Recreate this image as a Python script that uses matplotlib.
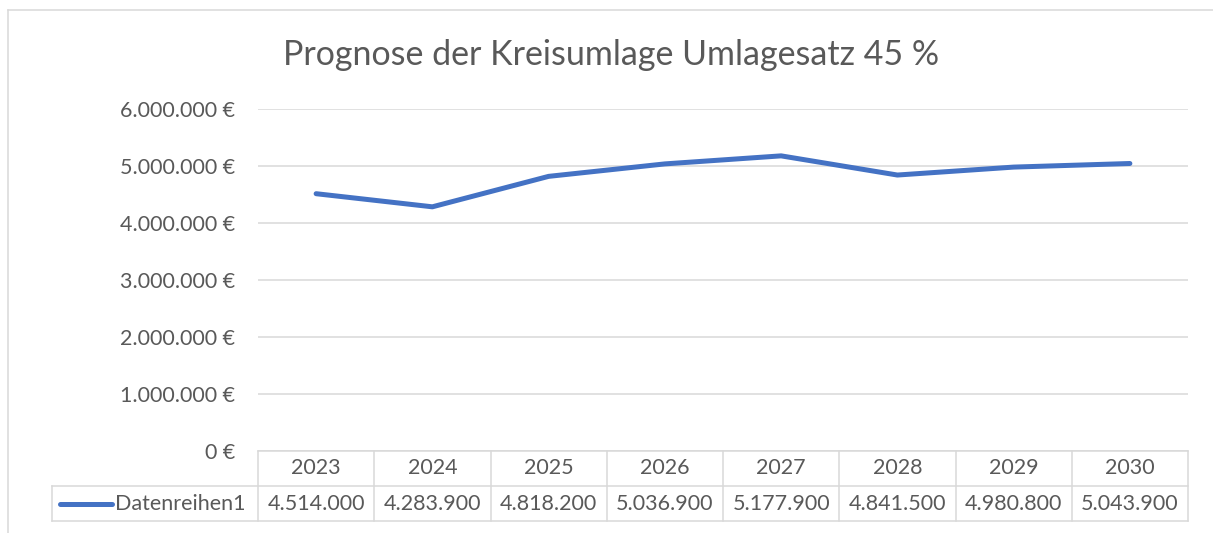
import matplotlib
matplotlib.use("Agg")
import matplotlib.pyplot as plt
from matplotlib.lines import Line2D
import matplotlib.transforms as mtransforms

years = ["2023", "2024", "2025", "2026", "2027", "2028", "2029", "2030"]
values = [4514000, 4283900, 4818200, 5036900, 5177900, 4841500, 4980800, 5043900]
series_name = "Datenreihen1"
title = "Prognose der Kreisumlage Umlagesatz 45 %"
yticks = [0, 1000000, 2000000, 3000000, 4000000, 5000000, 6000000]

def fmt(v):
    return f"{v:,.0f}".replace(",", ".")

W, H = 1213, 533
plt.rcParams['font.family'] = ['Lato', 'DejaVu Sans']
fig = plt.figure(figsize=(W / 100, H / 100), dpi=100)
TXT = "#595959"
GRID = "#D9D9D9"
LINE = "#4472C4"
FS = 15.5

x0, x1, ytop, ybot = 258, 1188, 109, 451
ax = fig.add_axes([x0 / W, 1 - ybot / H, (x1 - x0) / W, (ybot - ytop) / H])
xs = list(range(len(years)))
ax.plot(xs, values, color=LINE, lw=3.6, solid_capstyle='round', solid_joinstyle='round', zorder=3)
ax.set_xlim(-0.5, len(years) - 0.5)
ax.set_ylim(0, 6000000)
ax.set_yticks(yticks)
ax.set_yticklabels([fmt(v) + " €" for v in yticks], fontsize=FS, color=TXT)
ax.tick_params(axis='y', length=0, pad=16.5)
ax.set_xticks([])
for v in yticks:
    ax.axhline(v, color=GRID, lw=1.1, zorder=1)
for s in ax.spines.values():
    s.set_visible(False)

# Data table
trans = mtransforms.blended_transform_factory(ax.transData, ax.transAxes)
rh = 35 / (ybot - ytop)
n = len(years)
colw = (x1 - x0) / n
def px2x(px):
    return -0.5 + (px - x0) / colw
left_ext = px2x(52)
kw = dict(color=GRID, lw=1.1, transform=trans, clip_on=False)
ax.add_line(Line2D([-0.5, n - 0.5], [0, 0], **kw))
ax.add_line(Line2D([left_ext, n - 0.5], [-rh, -rh], **kw))
ax.add_line(Line2D([left_ext, n - 0.5], [-2 * rh, -2 * rh], **kw))
for i in range(n + 1):
    ax.add_line(Line2D([i - 0.5, i - 0.5], [0, -2 * rh], **kw))
ax.add_line(Line2D([left_ext, left_ext], [-rh, -2 * rh], **kw))
for i, (yr, v) in enumerate(zip(years, values)):
    ax.text(i, -rh / 2, yr, transform=trans, ha='center', va='center', fontsize=FS, color=TXT)
    ax.text(i, -1.5 * rh, fmt(v), transform=trans, ha='center', va='center', fontsize=FS, color=TXT)
ax.add_line(Line2D([px2x(60), px2x(112)], [-1.5 * rh, -1.5 * rh], color=LINE, lw=3.6,
                   solid_capstyle='round', transform=trans, clip_on=False))
ax.text(px2x(115), -1.5 * rh, series_name, transform=trans, ha='left', va='center', fontsize=FS, color=TXT)

fig.text(611 / W, 1 - 55 / H, title, ha='center', va='center', fontsize=24.5, color=TXT)

fig.add_artist(Line2D([8 / W, 8 / W], [0, 1 - 10 / H], color=GRID, lw=1.1, transform=fig.transFigure))
fig.add_artist(Line2D([8 / W, 1], [1 - 10 / H, 1 - 10 / H], color=GRID, lw=1.1, transform=fig.transFigure))

fig.savefig("out.png", dpi=100)
